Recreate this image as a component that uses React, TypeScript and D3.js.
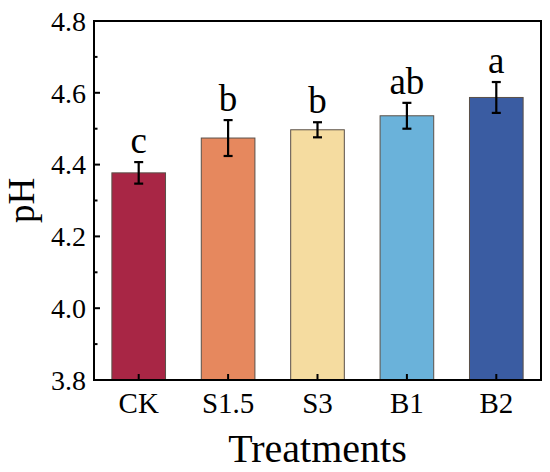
import React from "react";
import * as d3 from "d3";

const categories = ["CK", "S1.5", "S3", "B1", "B2"];
const means = [4.377, 4.474, 4.497, 4.536, 4.587];
const errors = [0.03, 0.05, 0.021, 0.036, 0.043];
const letters = ["c", "b", "b", "ab", "a"];
const colors = ["#A82645", "#E6885E", "#F5DCA0", "#6AB2DA", "#3A5CA2"];
const yTicks = [3.8, 4.0, 4.2, 4.4, 4.6, 4.8];
const yMinorTicks = [3.9, 4.1, 4.3, 4.5, 4.7];

const W = 550;
const H = 472;
const margin = { left: 94, top: 21, right: 9, bottom: 92 };
const FONT = "'Liberation Serif', 'Times New Roman', serif";

export default function App() {
  const x = d3
    .scaleBand<string>()
    .domain(categories)
    .range([margin.left, W - margin.right])
    .paddingInner(0.4)
    .paddingOuter(0.2);
  const y = d3.scaleLinear().domain([3.8, 4.8]).range([H - margin.bottom, margin.top]);
  const x0 = margin.left;
  const x1 = W - margin.right;
  const y0 = H - margin.bottom;
  const y1 = margin.top;
  const capW = 9;

  return (
    <svg
      width={W}
      height={H}
      style={{ position: "absolute", left: 0, top: 0, background: "#fff" }}
      fontFamily={FONT}
    >
      {categories.map((c, i) => {
        const bx = x(c)!;
        const cx = bx + x.bandwidth() / 2;
        const top = y(means[i] + errors[i]);
        const bot = y(means[i] - errors[i]);
        return (
          <g key={c}>
            <rect
              x={bx}
              y={y(means[i])}
              width={x.bandwidth()}
              height={y0 - y(means[i])}
              fill={colors[i]}
              stroke="#5a5048"
              strokeWidth={1}
            />
            <line x1={cx} x2={cx} y1={top} y2={bot} stroke="#000" strokeWidth={2.2} />
            <line x1={cx - capW / 2} x2={cx + capW / 2} y1={top} y2={top} stroke="#000" strokeWidth={2.2} />
            <line x1={cx - capW / 2} x2={cx + capW / 2} y1={bot} y2={bot} stroke="#000" strokeWidth={2.2} />
            <text x={cx} y={top - 9} textAnchor="middle" fontSize={37} fill="#000">
              {letters[i]}
            </text>
            <line x1={cx} x2={cx} y1={y0} y2={y0 - 6} stroke="#000" strokeWidth={2} />
            <text x={cx} y={y0 + 33} textAnchor="middle" fontSize={29} fill="#000">
              {c}
            </text>
          </g>
        );
      })}
      {yTicks.map((t) => (
        <g key={t}>
          <line x1={x0} x2={x0 + 6} y1={y(t)} y2={y(t)} stroke="#000" strokeWidth={2} />
          <text x={x0 - 8} y={y(t)} dy="0.35em" textAnchor="end" fontSize={28} fill="#000">
            {d3.format(".1f")(t)}
          </text>
        </g>
      ))}
      {yMinorTicks.map((t) => (
        <line key={t} x1={x0} x2={x0 + 3.5} y1={y(t)} y2={y(t)} stroke="#000" strokeWidth={2} />
      ))}
      <rect x={x0} y={y1} width={x1 - x0} height={y0 - y1} fill="none" stroke="#000" strokeWidth={2} />
      <text x={(x0 + x1) / 2} y={462} textAnchor="middle" fontSize={40} fill="#000">
        Treatments
      </text>
      <text
        transform={`translate(34, ${(y0 + y1) / 2}) rotate(-90)`}
        textAnchor="middle"
        fontSize={37}
        fill="#000"
      >
        pH
      </text>
    </svg>
  );
}
